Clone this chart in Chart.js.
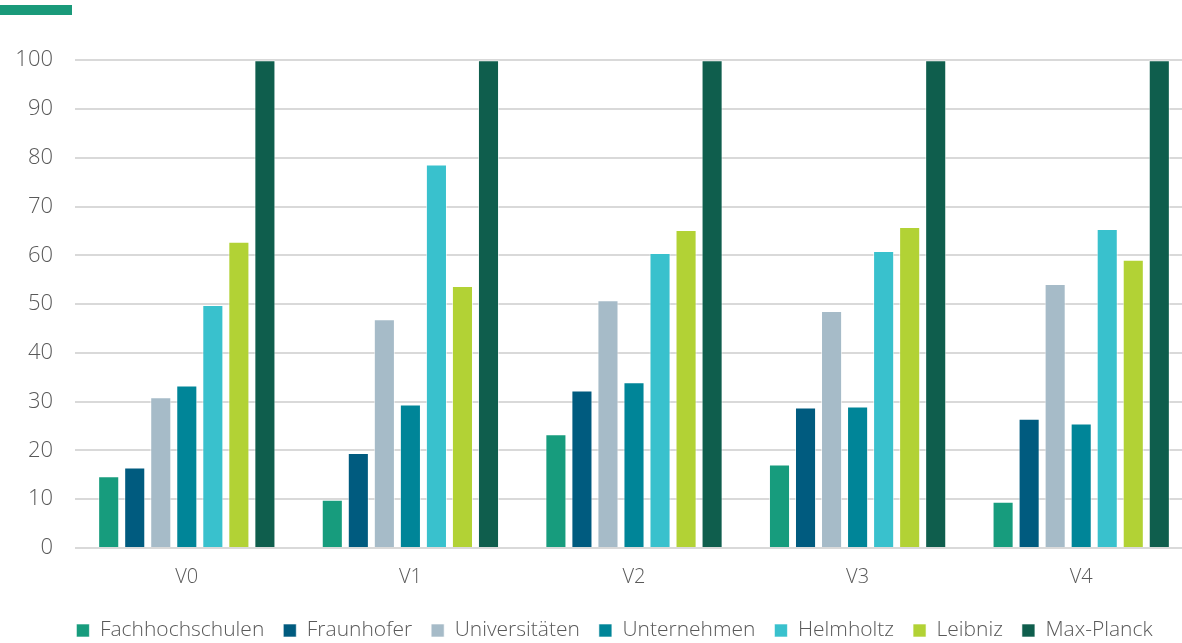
<!DOCTYPE html>
<html>
<head>
<meta charset="utf-8">
<script src="https://cdn.jsdelivr.net/npm/chart.js@4"></script>
<style>
  html, body { margin: 0; padding: 0; background: #fff; }
  #wrap { position: relative; width: 1182px; height: 643px; overflow: hidden; }
  #accent { position: absolute; left: 0; top: 5px; width: 72px; height: 10px; background: #1a9a7a; }
  #box { position: absolute; left: 0; top: 25px; width: 1193px; height: 626px; }
</style>
</head>
<body>
<div id="wrap">
  <div id="accent"></div>
  <div id="box"><canvas id="chart"></canvas></div>
</div>
<script>
// ---- DATA ----
const categories = ['V0', 'V1', 'V2', 'V3', 'V4'];
const seriesNames = ['Fachhochschulen', 'Fraunhofer', 'Universitäten', 'Unternehmen', 'Helmholtz', 'Leibniz', 'Max-Planck'];
const fachhochschulen = [14.7, 9.9, 23.3, 17.1, 9.5];
const fraunhofer = [16.5, 19.5, 32.3, 28.8, 26.5];
const universitaeten = [30.9, 46.9, 50.8, 48.6, 54.1];
const unternehmen = [33.3, 29.4, 34.0, 29.0, 25.5];
const helmholtz = [49.8, 78.6, 60.5, 60.9, 65.4];
const leibniz = [62.8, 53.7, 65.2, 65.8, 59.1];
const maxPlanck = [100, 100, 100, 100, 100];
const yTicks = [0, 10, 20, 30, 40, 50, 60, 70, 80, 90, 100];

const seriesValues = [fachhochschulen, fraunhofer, universitaeten, unternehmen, helmholtz, leibniz, maxPlanck];
const colors = ['#179c7d', '#005b7f', '#a6bbc8', '#008598', '#39c1cd', '#b2d235', '#0f5e4d'];

const textColor = '#595959';
const fontFamily = "'Open Sans', sans-serif";

// nudge the legend to the right, it is not centred on the canvas in the original
const legendShift = {
    id: 'legendShift',
    afterLayout(chart) {
        chart.legend.left += 18;
        chart.legend.right += 18;
    }
};

new Chart(document.getElementById('chart'), {
    type: 'bar',
    data: {
        labels: categories,
        datasets: seriesNames.map((name, i) => ({
            label: name,
            data: seriesValues[i],
            backgroundColor: colors[i],
            borderColor: 'rgba(255,255,255,0.6)',
            borderWidth: 1,
            barPercentage: 0.81,
            categoryPercentage: 0.815
        }))
    },
    options: {
        responsive: true,
        maintainAspectRatio: false,
        animation: false,
        layout: { padding: 0 },
        scales: {
            x: {
                grid: { display: false },
                border: { display: false },
                afterFit: (scale) => { scale.height += 3; },
                ticks: { color: textColor, font: { family: fontFamily, size: 20, weight: 300 }, padding: 9 }
            },
            y: {
                min: 0,
                max: 100,
                afterBuildTicks: (axis) => { axis.ticks = yTicks.map(v => ({ value: v })); },
                afterFit: (scale) => { scale.width = 75; },
                grid: { color: '#d9d9d9', lineWidth: 2, drawTicks: false },
                border: { display: false },
                ticks: { color: textColor, font: { family: fontFamily, size: 22, weight: 300 }, padding: 22 }
            }
        },
        plugins: {
            legend: {
                position: 'bottom',
                labels: {
                    color: textColor,
                    boxWidth: 13,
                    boxHeight: 13,
                    padding: 19,
                    font: { family: fontFamily, size: 21, weight: 300 }
                }
            },
            tooltip: { enabled: false }
        }
    },
    plugins: [legendShift]
});
</script>
</body>
</html>
